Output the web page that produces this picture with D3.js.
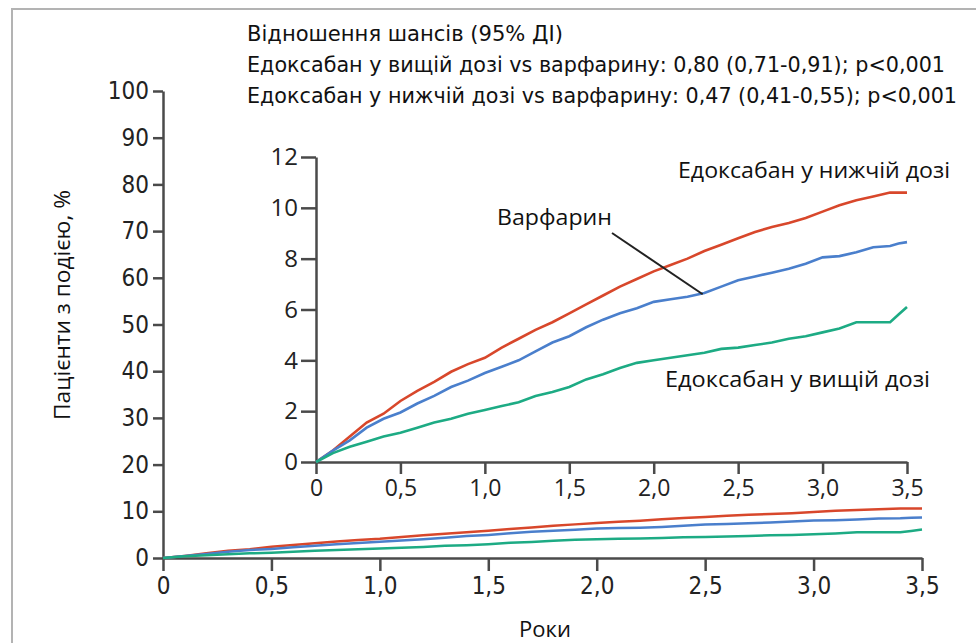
<!DOCTYPE html>
<html>
<head>
<meta charset="utf-8">
<script src="https://cdn.jsdelivr.net/npm/d3@7"></script>
<style>
  body { margin: 0; background: #fff; }
  svg { display: block; }
  .narrow { font-family: "Liberation Sans Narrow", "DejaVu Sans Condensed", "Liberation Sans", sans-serif; }
  .reg { font-family: "Open Sans", "Noto Sans", sans-serif; }
</style>
</head>
<body>
<svg width="976" height="643"></svg>
<script>
'use strict';

// data (cumulative % of patients with event)
var years = [0, 0.1, 0.2, 0.3, 0.4, 0.5, 0.6, 0.7, 0.8, 0.9, 1.0, 1.1, 1.2, 1.3, 1.4, 1.5, 1.6, 1.7, 1.8,
  1.9, 2.0, 2.1, 2.2, 2.3, 2.4, 2.5, 2.6, 2.7, 2.8, 2.9, 3.0, 3.1, 3.2, 3.3, 3.4, 3.45, 3.5];
var redVals = [0, 0.45, 1.0, 1.55, 1.9, 2.4, 2.8, 3.15, 3.55, 3.85, 4.1, 4.5, 4.85, 5.2, 5.5, 5.85, 6.2, 6.55, 6.9,
  7.2, 7.5, 7.75, 8.0, 8.3, 8.55, 8.8, 9.05, 9.25, 9.4, 9.6, 9.85, 10.1, 10.3, 10.45, 10.6, 10.6, 10.6];
var blueVals = [0, 0.45, 0.85, 1.35, 1.7, 1.95, 2.3, 2.6, 2.95, 3.2, 3.5, 3.75, 4.0, 4.35, 4.7, 4.95, 5.3, 5.6, 5.85,
  6.05, 6.3, 6.4, 6.5, 6.65, 6.9, 7.15, 7.3, 7.45, 7.6, 7.8, 8.05, 8.1, 8.25, 8.45, 8.5, 8.6, 8.65];
var greenVals = [0, 0.35, 0.6, 0.8, 1.0, 1.15, 1.35, 1.55, 1.7, 1.9, 2.05, 2.2, 2.35, 2.6, 2.75, 2.95, 3.25, 3.45, 3.7,
  3.9, 4.0, 4.1, 4.2, 4.3, 4.45, 4.5, 4.6, 4.7, 4.85, 4.95, 5.1, 5.25, 5.5, 5.5, 5.5, 5.8, 6.1];

var xTicks = [0, 0.5, 1.0, 1.5, 2.0, 2.5, 3.0, 3.5];
var mainYTicks = [0, 10, 20, 30, 40, 50, 60, 70, 80, 90, 100];
var insetYTicks = [0, 2, 4, 6, 8, 10, 12];

var titleLines = [
  'Відношення шансів (95% ДІ)',
  'Едоксабан у вищій дозі vs варфарину: 0,80 (0,71-0,91); p<0,001',
  'Едоксабан у нижчій дозі vs варфарину: 0,47 (0,41-0,55); p<0,001'
];

var series = [
  { name: 'red', color: '#d8472b', values: redVals },
  { name: 'blue', color: '#4a7fcc', values: blueVals },
  { name: 'green', color: '#1dab84', values: greenVals }
];

var svg = d3.select('svg');
var axisColor = '#4a4a4a';
var fmt = function (d) { return d === 0 ? '0' : d3.format('.1f')(d).replace('.', ','); };

// outer frame
svg.append('rect')
  .attr('x', 12).attr('y', 9).attr('width', 980).attr('height', 660)
  .attr('fill', 'none').attr('stroke', '#b3b3b3').attr('stroke-width', 2);

// title block
svg.append('g').selectAll('text')
  .data(titleLines)
  .enter().append('text')
  .attr('class', 'narrow')
  .attr('x', 247)
  .attr('y', function (d, i) { return 41 + i * 31; })
  .attr('font-size', 22)
  .attr('fill', '#111')
  .attr('textLength', function (d, i) { return [316, 698, 710][i]; })
  .attr('lengthAdjust', 'spacingAndGlyphs')
  .text(function (d) { return d; });

// ---------- main chart ----------
var x = d3.scaleLinear().domain([0, 3.5]).range([163, 922]);
var y = d3.scaleLinear().domain([0, 100]).range([558, 91]);

var styleAxis = function (g, cls, size) {
  g.attr('font-size', size);
  g.selectAll('path, line').attr('stroke', axisColor).attr('stroke-width', 2.5);
  g.selectAll('text').attr('class', cls).style('font-size', size + 'px').attr('fill', '#222');
};

var gx = svg.append('g')
  .attr('transform', 'translate(0,558)')
  .call(d3.axisBottom(x).tickValues(xTicks).tickFormat(fmt).tickSize(13).tickSizeOuter(0).tickPadding(6));
styleAxis(gx, 'narrow', 24);

var gy = svg.append('g')
  .attr('transform', 'translate(163,0)')
  .call(d3.axisLeft(y).tickValues(mainYTicks).tickSize(10).tickSizeOuter(0).tickPadding(4));
styleAxis(gy, 'narrow', 24);

var mainLine = d3.line()
  .x(function (d, i) { return x(years[i]); })
  .y(function (d) { return y(d); });

svg.append('g').selectAll('path')
  .data(series)
  .enter().append('path')
  .attr('d', function (s) { return mainLine(s.values); })
  .attr('fill', 'none')
  .attr('stroke', function (s) { return s.color; })
  .attr('stroke-width', 2.5);

svg.append('text')
  .attr('class', 'reg')
  .attr('x', 545).attr('y', 637)
  .attr('text-anchor', 'middle')
  .attr('font-size', 22)
  .attr('fill', '#111')
  .text('Роки');

svg.append('text')
  .attr('class', 'reg')
  .attr('transform', 'translate(70,305) rotate(-90)')
  .attr('text-anchor', 'middle')
  .attr('font-size', 22)
  .attr('fill', '#111')
  .attr('textLength', 230)
  .attr('lengthAdjust', 'spacingAndGlyphs')
  .text('Пацієнти з подією, %');

// ---------- inset ----------
var xi = d3.scaleLinear().domain([0, 3.5]).range([316, 907]);
var yi = d3.scaleLinear().domain([0, 12]).range([462, 157]);

var gxi = svg.append('g')
  .attr('transform', 'translate(0,462)')
  .call(d3.axisBottom(xi).tickValues(xTicks).tickFormat(fmt).tickSize(12).tickSizeOuter(0).tickPadding(6));
styleAxis(gxi, 'reg', 23);

var gyi = svg.append('g')
  .attr('transform', 'translate(316,0)')
  .call(d3.axisLeft(yi).tickValues(insetYTicks).tickSize(15).tickSizeOuter(0).tickPadding(3));
styleAxis(gyi, 'reg', 24);

var insetLine = d3.line()
  .x(function (d, i) { return xi(years[i]); })
  .y(function (d) { return yi(d); });

svg.append('g').selectAll('path')
  .data(series)
  .enter().append('path')
  .attr('d', function (s) { return insetLine(s.values); })
  .attr('fill', 'none')
  .attr('stroke', function (s) { return s.color; })
  .attr('stroke-width', 2.6);

// labels in inset
var labels = [
  { text: 'Едоксабан у нижчій дозі', x: 678, y: 178, w: 272 },
  { text: 'Варфарин', x: 497, y: 225, w: 115 },
  { text: 'Едоксабан у вищій дозі', x: 665, y: 387, w: 265 }
];
svg.append('g').selectAll('text')
  .data(labels)
  .enter().append('text')
  .attr('class', 'reg')
  .attr('x', function (d) { return d.x; })
  .attr('y', function (d) { return d.y; })
  .attr('font-size', 21)
  .attr('fill', '#111')
  .attr('textLength', function (d) { return d.w; })
  .attr('lengthAdjust', 'spacingAndGlyphs')
  .text(function (d) { return d.text; });

// pointer from "Варфарин" to the blue curve
svg.append('line')
  .attr('x1', 612).attr('y1', 233)
  .attr('x2', xi(2.29)).attr('y2', yi(6.6))
  .attr('stroke', '#222').attr('stroke-width', 2);
</script>
</body>
</html>
